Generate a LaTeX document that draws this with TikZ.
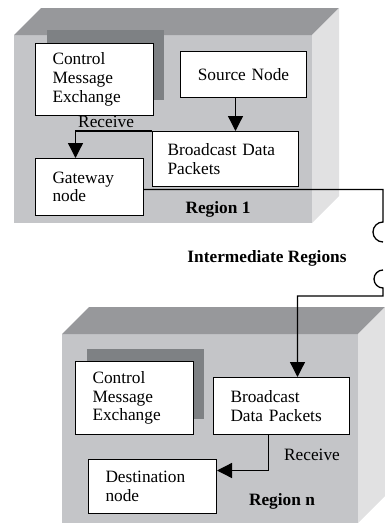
\documentclass[tikz,border=0pt]{standalone}
\usepackage{fontspec}
\setmainfont{Liberation Serif}
\usepackage{tikz}
\usetikzlibrary{arrows.meta}
\definecolor{topgray}{HTML}{97989B}
\definecolor{frontgray}{HTML}{C4C5C8}
\definecolor{sidegray}{HTML}{E1E1E2}
\definecolor{shadowgray}{HTML}{7E8184}
% 3d slab: front face corners (x0,y0) (x1,y1)
\newcommand{\slab}[4]{%
  \fill[frontgray] (#1,#2) rectangle (#3,#4);
  \fill[topgray] (#1,#2) -- ++(27,-27) -- (#3+27,#2-27) -- (#3,#2) -- cycle;
  \fill[sidegray] (#3,#2) -- ++(27,-27) -- (#3+27,#4-27) -- (#3,#4) -- cycle;}

\begin{document}
\begin{tikzpicture}[x=1pt,y=-1pt,>={Triangle[length=15pt,width=15pt]},
  every node/.style={font=\fontsize{17.3}{18.7}\selectfont},
  blk/.style={draw,fill=white,line width=1pt,align=left,anchor=north west,inner xsep=17pt,inner ysep=0pt},
  link/.style={line width=1.3pt},
  tag/.style={font=\fontsize{17.3}{18.7}\selectfont\bfseries}]
  \useasboundingbox (0,0) rectangle (385,523);
  \slab{14}{35}{312}{223}
  \slab{62}{334}{358}{523}
  % region 1
  \fill[shadowgray] (47,30) rectangle (164,100);
  \node[blk,text width=84pt,minimum height=72pt] (cme1) at (35,43) {Control\\Message\\Exchange};
  \node[blk,align=center,text width=92pt,minimum height=46pt] (src) at (180,51) {Source Node};
  \node[blk,text width=116pt,minimum height=55pt,inner xsep=15pt] (bdp1) at (152,131) {Broadcast Data\\Packets};
  \node[blk,text width=74pt,minimum height=57pt] (gw) at (35,158) {Gateway\\node};
  \node[tag] (reg1) at (218,209) {Region 1};
  \coordinate (s1) at ([xshift=-8pt]src.south);
  \draw[link,->] (s1) -- (s1 |- bdp1.north);
  \draw[link,->] (bdp1.north west) -| node[pos=0.3,above,inner sep=3pt] (rcv1) {Receive} ([xshift=-14pt]gw.north);
  % intermediate regions
  \coordinate (c1) at (383,222);
  \coordinate (c2) at (383,270);
  \draw[link] ([yshift=-2.5pt]gw.east) -| (c1) arc[start angle=270,end angle=90,radius=10];
  \node[tag] (mid) at (267,258) {Intermediate Regions};
  % region n
  \fill[shadowgray] (87,349) rectangle (204,419);
  \node[blk,text width=84pt,minimum height=73pt] (cmen) at (75,361) {Control\\Message\\Exchange};
  \node[blk,text width=102pt,minimum height=57pt] (bdpn) at (213,377) {Broadcast\\Data Packets};
  \node[blk,text width=94pt,minimum height=54pt] (dst) at (88,459) {Destination\\node};
  \node (rcvn) at (312,455) {Receive};
  \node[tag] (regn) at (282,501) {Region n};
  \draw[link,->] (c2) arc[start angle=270,end angle=90,radius=9] -- ++(0,8) -| ([xshift=16pt]bdpn.north);
  \draw[link,->] ([xshift=-13pt]bdpn.south) |- ([yshift=16pt]dst.east);
\end{tikzpicture}
\end{document}
